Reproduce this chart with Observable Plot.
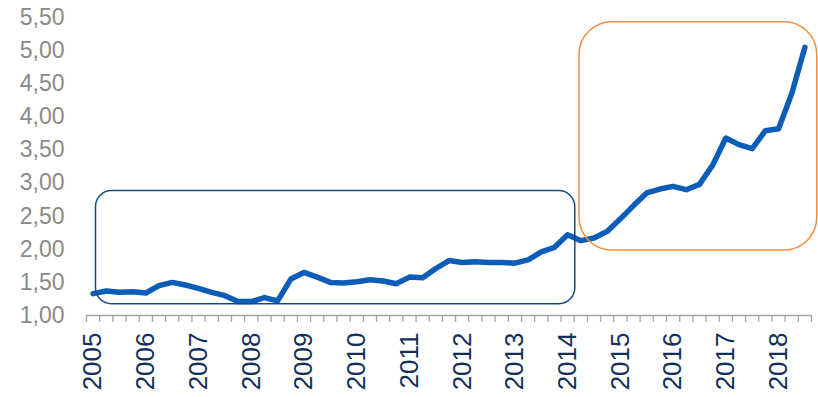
<!DOCTYPE html>
<html>
<head>
<meta charset="utf-8">
<script src="https://cdn.jsdelivr.net/npm/d3@7"></script>
<script src="https://cdn.jsdelivr.net/npm/@observablehq/plot@0.6"></script>
<style>
  html, body { margin: 0; padding: 0; background: #fff; }
  #chart { width: 818px; height: 397px; }
</style>
</head>
<body>
<div id="chart"></div>
<script>
// Quarterly series, 2005 Q1 – 2018 Q3
const startYear = 2005;
const values = [
  1.33, 1.37, 1.35, 1.36,   // 2005
  1.34, 1.45, 1.50, 1.46,   // 2006
  1.41, 1.35, 1.30, 1.21,   // 2007
  1.21, 1.27, 1.22, 1.55,   // 2008
  1.65, 1.58, 1.50, 1.49,   // 2009
  1.51, 1.54, 1.52, 1.48,   // 2010
  1.58, 1.57, 1.71, 1.83,   // 2011
  1.80, 1.81, 1.80, 1.80,   // 2012
  1.79, 1.84, 1.96, 2.03,   // 2013
  2.22, 2.13, 2.17, 2.27,   // 2014
  2.46, 2.66, 2.85, 2.91,   // 2015
  2.95, 2.90, 2.98, 3.27,   // 2016
  3.68, 3.58, 3.52, 3.79,   // 2017
  3.82, 4.35, 5.05          // 2018
];
const yearLabels = [2005, 2006, 2007, 2008, 2009, 2010, 2011, 2012, 2013, 2014, 2015, 2016, 2017, 2018];
const yTicks = [1.0, 1.5, 2.0, 2.5, 3.0, 3.5, 4.0, 4.5, 5.0, 5.5];

// Highlighted periods (years on x, values on y)
const stablePeriod = [{from: 2005.18, to: 2014.27, low: 1.17, high: 2.88}];
const risePeriod = [{from: 2014.35, to: 2018.86, low: 1.98, high: 5.43}];

// Each quarter sits in the middle of its category slot
const series = values.map((v, i) => ({t: startYear + i / 4 + 0.125, v}));
const nQuarters = values.length;
const endYear = startYear + nQuarters / 4;
const quarterEdges = d3.range(nQuarters + 1).map(i => startYear + i / 4);
const yearCenters = yearLabels.map(y => y + 0.125);

const comma = d => d.toFixed(2).replace(".", ",");

const chart = Plot.plot({
  width: 818,
  height: 397,
  marginLeft: 86,
  marginRight: 7,
  marginTop: 17,
  marginBottom: 82,
  style: {fontFamily: "'Liberation Sans', Arial, sans-serif", background: "#fff"},
  x: {domain: [startYear, endYear], label: null},
  y: {domain: [1, 5.5], label: null},
  marks: [
    Plot.axisY({ticks: yTicks, tickSize: 0, tickPadding: 22, tickFormat: comma,
                fontSize: 23, color: "#898989", label: null}),
    Plot.ruleY([1], {stroke: "#a6a6a6", strokeWidth: 1.5}),
    Plot.axisX({ticks: quarterEdges, tickSize: 7, tickFormat: () => "",
                color: "#a6a6a6", strokeWidth: 1.3, label: null}),
    Plot.axisX({ticks: yearCenters, tickSize: 0, tickPadding: 17, tickRotate: -90,
                tickFormat: d => String(Math.floor(d)), fontSize: 26,
                color: "#12305a", label: null}),
    Plot.line(series, {x: "t", y: "v", stroke: "#0b5db7", strokeWidth: 5.5,
                       strokeLinejoin: "round", strokeLinecap: "round"}),
    Plot.rect(stablePeriod, {x1: "from", x2: "to", y1: "low", y2: "high",
                             fill: "none", stroke: "#124a86", strokeWidth: 1.5, rx: 16}),
    Plot.rect(risePeriod, {x1: "from", x2: "to", y1: "low", y2: "high",
                           fill: "none", stroke: "#f2903f", strokeWidth: 1.5, rx: 33})
  ]
});

document.getElementById("chart").appendChild(chart);
</script>
</body>
</html>
